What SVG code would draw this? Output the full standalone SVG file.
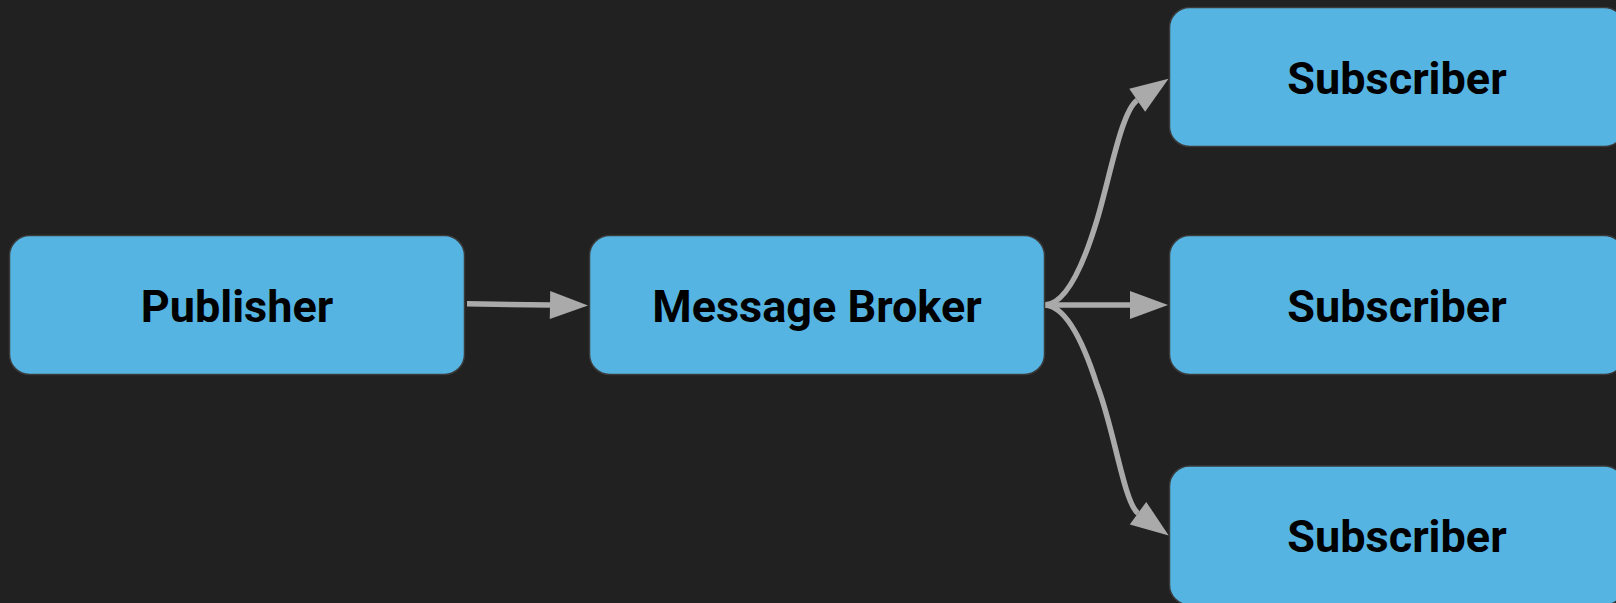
<svg xmlns="http://www.w3.org/2000/svg" width="1616" height="603" viewBox="0 0 1616 603">
  <style>
    .node rect { fill: #56b4e2; stroke: #3a3a3a; stroke-width: 1.5; }
    .node text { font-family: Roboto, "Liberation Sans", sans-serif; font-weight: 700; font-size: 45px; fill: #000; text-anchor: middle; }
    .edge { fill: none; stroke: #aaaaaa; stroke-width: 5.5; marker-end: url(#arrow); }
  </style>
  <defs>
    <marker id="arrow" markerUnits="userSpaceOnUse" viewBox="0 -14 38 28" refX="0" refY="0" markerWidth="38" markerHeight="28" orient="auto" overflow="visible">
      <path d="M0,-14 L38,0 L0,14 z" fill="#aaaaaa"/>
    </marker>
  </defs>

  <rect width="1616" height="603" fill="#212121"/>

  <g id="connectors">
    <path class="edge" d="M467,303.8 L550,305"/>
    <path class="edge" d="M1045,305 L1130,305"/>
    <path class="edge" d="M1045,305 C1065,304 1082,270 1097,220 C1110,177 1121.5,111 1137.2,100.2"/>
    <path class="edge" d="M1045,305 C1065,306 1082,338 1097,385 C1114,428 1124,503 1138,513.2"/>
  </g>

  <g id="publisher" class="node">
    <rect x="9.5" y="235.5" width="455" height="139" rx="20"/>
    <text x="237" y="321.5">Publisher</text>
  </g>

  <g id="broker" class="node">
    <rect x="589.5" y="235.5" width="455" height="139" rx="20"/>
    <text x="817" y="321.5">Message Broker</text>
  </g>

  <g id="subscriber-1" class="node">
    <rect x="1169.5" y="7.5" width="455" height="139" rx="20"/>
    <text x="1397" y="93.5">Subscriber</text>
  </g>

  <g id="subscriber-2" class="node">
    <rect x="1169.5" y="235.5" width="455" height="139" rx="20"/>
    <text x="1397" y="321.5">Subscriber</text>
  </g>

  <g id="subscriber-3" class="node">
    <rect x="1169.5" y="466" width="455" height="139" rx="20"/>
    <text x="1397" y="552">Subscriber</text>
  </g>
</svg>
